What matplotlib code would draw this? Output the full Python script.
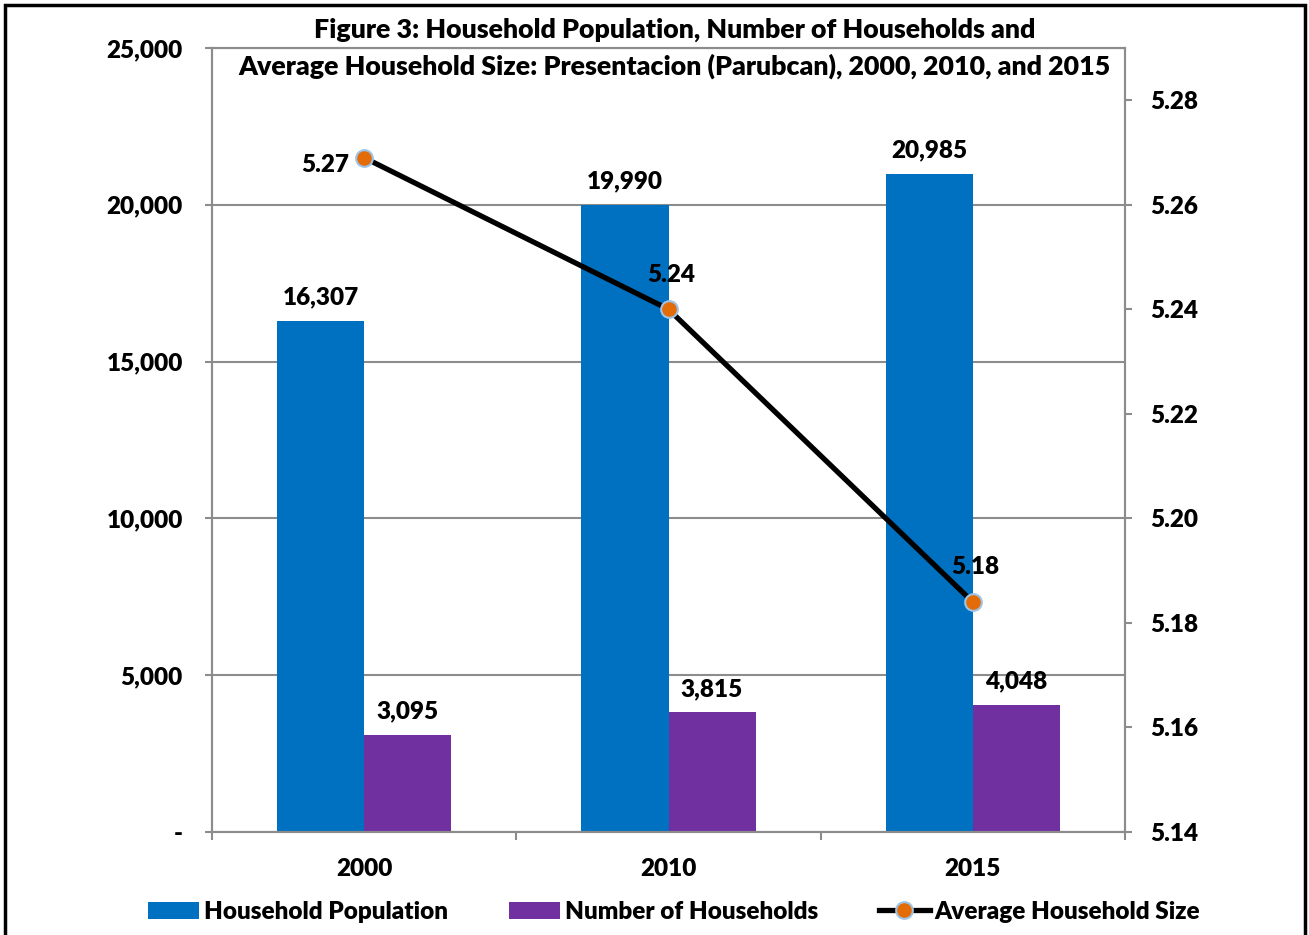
import numpy as np
import matplotlib
matplotlib.use("Agg")
import matplotlib.pyplot as plt
from matplotlib.patches import Rectangle
from matplotlib.ticker import FuncFormatter

plt.rcParams["font.family"] = ["Lato", "DejaVu Sans"]
plt.rcParams["font.weight"] = "heavy"
fs = 17.5

# data
years = ["2000", "2010", "2015"]
hh_population = [16307, 19990, 20985]
num_households = [3095, 3815, 4048]
avg_size = [5.269, 5.240, 5.184]

blue = "#0070C0"
purple = "#7030A0"
orange = "#E36C09"
grey = "#8C8C8C"

fig = plt.figure(figsize=(13.09, 9.35), dpi=100)
ax = fig.add_axes([0.162, 0.1102, 0.6974, 0.8385])
ax2 = ax.twinx()

x = np.arange(len(years))
w = 0.286
b1 = ax.bar(x - w/2, hh_population, w, color=blue, zorder=2, label="Household Population")
b2 = ax.bar(x + w/2, num_households, w, color=purple, zorder=2, label="Number of Households")

ax.set_xlim(-0.5, 2.5)
ax.set_ylim(0, 25000)
ax.set_yticks(np.arange(0, 25001, 5000))
ax.yaxis.set_major_formatter(FuncFormatter(lambda v, p: "-" if v == 0 else "{:,.0f}".format(v)))
ax.yaxis.grid(True, color=grey, lw=1.5, zorder=0)
ax.set_axisbelow(True)
ax.set_xticks(x)
ax.set_xticklabels(years)
ax.set_xticks([-0.5, 0.5, 1.5, 2.5], minor=True)
ax.tick_params(axis="x", which="major", length=0, pad=19, labelsize=fs)
ax.tick_params(axis="x", which="minor", length=6, width=1.5, color=grey, direction="out")
ax.tick_params(axis="y", length=5, width=1.5, color=grey, labelsize=fs, pad=16)
for s in ax.spines.values():
    s.set_color(grey)
    s.set_linewidth(1.5)

for bars, vals in ((b1, hh_population), (b2, num_households)):
    for r, v in zip(bars, vals):
        ax.annotate("{:,}".format(v), (r.get_x() + r.get_width()/2, v), xytext=(0, 9),
                    textcoords="offset points", ha="center", va="bottom", fontsize=fs)

ln, = ax2.plot(x, avg_size, color="black", lw=3.8, marker="o", ms=12,
               mfc=orange, mec="#9DC3E6", mew=1.5, zorder=5, label="Average Household Size")
ax2.set_ylim(5.14, 5.29)
ax2.set_yticks(np.arange(5.14, 5.2801, 0.02))
ax2.yaxis.set_major_formatter(FuncFormatter(lambda v, p: "{:.2f}".format(v)))
ax2.tick_params(axis="y", length=5, width=1.5, color=grey, labelsize=fs, pad=13)
for s in ax2.spines.values():
    s.set_color(grey)
    s.set_linewidth(1.5)

# line labels
ax2.annotate("{:.2f}".format(avg_size[0]), (x[0], avg_size[0]), xytext=(-11, -5),
             textcoords="offset points", ha="right", va="center", fontsize=fs)
for i in (1, 2):
    ax2.annotate("{:.2f}".format(avg_size[i]), (x[i], avg_size[i]), xytext=(2, 25),
                 textcoords="offset points", ha="center", va="center", fontsize=fs)

fig.text(0.5155, 0.968, "Figure 3: Household Population, Number of Households and",
         ha="center", va="center", fontsize=fs + 1.8)
fig.text(0.5155, 0.929, "Average Household Size: Presentacion (Parubcan), 2000, 2010, and 2015",
         ha="center", va="center", fontsize=fs + 1.8)

fig.legend([b1, b2, ln], [b1.get_label(), b2.get_label(), ln.get_label()],
           loc="center", bbox_to_anchor=(0.515, 0.025), ncol=3, frameon=False,
           fontsize=fs, handlelength=2.1, handletextpad=0.2, columnspacing=2.5)

fig.patches.append(Rectangle((0.004, -0.05), 0.9929, 1.0447, transform=fig.transFigure,
                             fill=False, ec="black", lw=2.5))

fig.savefig("out.png", dpi=100)
